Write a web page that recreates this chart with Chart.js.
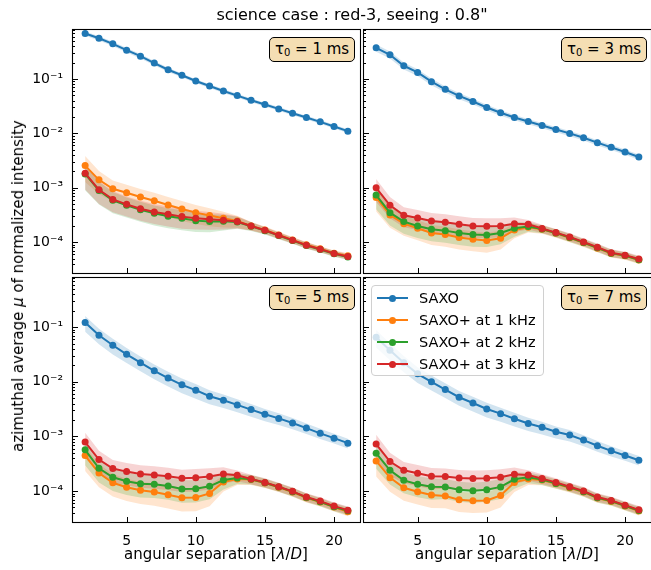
<!DOCTYPE html>
<html>
<head>
<meta charset="utf-8">
<script src="https://cdn.jsdelivr.net/npm/chart.js@4.4.1/dist/chart.umd.min.js"></script>
<style>
html, body { margin: 0; padding: 0; background: #fff; overflow: hidden; width: 651px; height: 570px; }
body { position: relative; font-family: "DejaVu Sans", sans-serif; color: #000; }
canvas.panel { position: absolute; }
.txt { position: absolute; white-space: nowrap; }
.tau { position: absolute; width: 84px; height: 23px; background: #f5deb3; border: 1px solid #000; border-radius: 5px;
       font-size: 15px; line-height: 23px; text-align: center; }
.tau sub { font-size: 10px; vertical-align: -2px; line-height: 0; }
#legend { position: absolute; left: 371px; top: 285px; width: 171px; height: 89px; background: rgba(255,255,255,0.8);
          border: 1px solid #d0d0d0; border-radius: 4px; font-size: 14.5px; }
#legend .row { position: absolute; left: 0; height: 20px; line-height: 20px; }
#legend .ln { position: absolute; left: 5px; top: 9px; width: 31px; height: 2px; }
#legend .mk { position: absolute; left: 17px; top: 6.5px; width: 7px; height: 7px; border-radius: 50%; }
#legend .lb { position: absolute; left: 47px; top: 0; white-space: nowrap; }
</style>
</head>
<body>
<canvas class="panel" id="c1" width="372" height="264" style="left:0px;top:20px"></canvas>
<canvas class="panel" id="c3" width="310" height="264" style="left:353px;top:20px"></canvas>
<canvas class="panel" id="c5" width="372" height="282" style="left:0px;top:268px"></canvas>
<canvas class="panel" id="c7" width="310" height="282" style="left:353px;top:268px"></canvas>

<div class="txt" style="left:0;top:5px;width:704px;text-align:center;font-size:16px;line-height:20px">science case : red-3, seeing : 0.8"</div>
<div class="txt" style="left:18px;top:286px;font-size:15px;transform:translate(-50%,-50%) rotate(-90deg)">azimuthal average <i>μ</i> of normalized intensity</div>
<div class="txt" style="left:216px;top:554px;font-size:15px;transform:translate(-50%,-50%)">angular separation [<i>λ</i>/<i>D</i>]</div>
<div class="txt" style="left:507px;top:554px;font-size:15px;transform:translate(-50%,-50%)">angular separation [<i>λ</i>/<i>D</i>]</div>

<div class="tau" style="left:269px;top:37px">τ<sub>0</sub> = 1 ms</div>
<div class="tau" style="left:561px;top:37px">τ<sub>0</sub> = 3 ms</div>
<div class="tau" style="left:269px;top:285px">τ<sub>0</sub> = 5 ms</div>
<div class="tau" style="left:561px;top:285px">τ<sub>0</sub> = 7 ms</div>

<div id="legend"></div>

<script>
// --- data ---
const sep = [2, 3, 4, 5, 6, 7, 8, 9, 10, 11, 12, 13, 14, 15, 16, 17, 18, 19, 20, 21];
const seriesNames = ['SAXO', 'SAXO+ at 1 kHz', 'SAXO+ at 2 kHz', 'SAXO+ at 3 kHz'];
const colors = ['#1f77b4', '#ff7f0e', '#2ca02c', '#d62728'];
const bandColors = ['rgba(31,119,180,0.2)', 'rgba(255,127,14,0.2)', 'rgba(44,160,44,0.2)', 'rgba(214,39,40,0.2)'];

// tau0 = 1 ms
const saxoT1 = [0.684, 0.562, 0.443, 0.339, 0.263, 0.196, 0.148, 0.117, 0.0919, 0.0744, 0.0603, 0.0495, 0.0407, 0.0339, 0.0282, 0.0235, 0.0196, 0.0163, 0.0134, 0.0110];
const p1kT1 = [2.56e-3, 1.40e-3, 9.6e-4, 8.1e-4, 6.75e-4, 5.78e-4, 4.82e-4, 4.07e-4, 3.49e-4, 3.08e-4, 2.75e-4, 2.46e-4, 1.99e-4, 1.68e-4, 1.36e-4, 1.10e-4, 8.94e-5, 7.55e-5, 6.29e-5, 5.62e-5];
const p2kT1 = [1.80e-3, 8.93e-4, 5.87e-4, 4.75e-4, 3.96e-4, 3.39e-4, 2.99e-4, 2.75e-4, 2.49e-4, 2.39e-4, 2.42e-4, 2.35e-4, 1.96e-4, 1.63e-4, 1.32e-4, 1.07e-4, 8.69e-5, 7.34e-5, 6.12e-5, 5.32e-5];
const p3kT1 = [1.85e-3, 9.18e-4, 6.12e-4, 4.96e-4, 4.13e-4, 3.59e-4, 3.25e-4, 2.95e-4, 2.75e-4, 2.64e-4, 2.52e-4, 2.39e-4, 1.99e-4, 1.66e-4, 1.34e-4, 1.09e-4, 8.8e-5, 7.45e-5, 6.2e-5, 5.47e-5];

// tau0 = 3 ms
const saxoT3 = [0.374, 0.279, 0.175, 0.132, 0.0894, 0.0647, 0.0489, 0.0385, 0.0299, 0.0239, 0.0196, 0.0166, 0.0140, 0.0118, 0.0100, 0.00833, 0.00675, 0.00554, 0.00456, 0.00369];
const p1kT3 = [6.65e-4, 3.16e-4, 2.19e-4, 1.80e-4, 1.48e-4, 1.38e-4, 1.22e-4, 1.13e-4, 1.07e-4, 1.18e-4, 1.68e-4, 1.88e-4, 1.73e-4, 1.46e-4, 1.20e-4, 9.73e-5, 7.76e-5, 6.21e-5, 5.62e-5, 4.69e-5];
const p2kT3 = [7.34e-4, 3.49e-4, 2.39e-4, 1.99e-4, 1.73e-4, 1.63e-4, 1.48e-4, 1.38e-4, 1.36e-4, 1.48e-4, 1.80e-4, 1.94e-4, 1.75e-4, 1.48e-4, 1.22e-4, 9.87e-5, 7.87e-5, 6.29e-5, 5.70e-5, 4.75e-5];
const p3kT3 = [1.0e-3, 4.75e-4, 3.12e-4, 2.79e-4, 2.46e-4, 2.32e-4, 2.13e-4, 1.99e-4, 1.96e-4, 1.99e-4, 2.19e-4, 2.13e-4, 1.78e-4, 1.50e-4, 1.25e-4, 1.01e-4, 8.11e-5, 6.38e-5, 5.78e-5, 4.89e-5];

// tau0 = 5 ms
const saxoT5 = [0.122, 0.0713, 0.0467, 0.0319, 0.0224, 0.0159, 0.0117, 0.00881, 0.00703, 0.00545, 0.00460, 0.00378, 0.00310, 0.00254, 0.00214, 0.00176, 0.00142, 0.00114, 9.31e-4, 7.53e-4];
const p1kT5 = [4.47e-4, 2.14e-4, 1.42e-4, 1.17e-4, 1.03e-4, 9.59e-5, 8.57e-5, 7.54e-5, 7.65e-5, 9.06e-5, 1.47e-4, 1.66e-4, 1.62e-4, 1.40e-4, 1.17e-4, 9.59e-5, 7.54e-5, 6.28e-5, 5.08e-5, 4.17e-5];
const p2kT5 = [5.69e-4, 2.61e-4, 1.79e-4, 1.51e-4, 1.36e-4, 1.33e-4, 1.24e-4, 1.09e-4, 1.10e-4, 1.22e-4, 1.59e-4, 1.73e-4, 1.64e-4, 1.42e-4, 1.19e-4, 9.73e-5, 7.65e-5, 6.37e-5, 5.15e-5, 4.35e-5];
const p3kT5 = [7.87e-4, 3.78e-4, 2.58e-4, 2.27e-4, 2.06e-4, 1.97e-4, 1.86e-4, 1.71e-4, 1.76e-4, 1.84e-4, 2.06e-4, 1.94e-4, 1.66e-4, 1.44e-4, 1.20e-4, 9.87e-5, 7.76e-5, 6.55e-5, 5.30e-5, 4.47e-5];

// tau0 = 7 ms
const saxoT7 = [0.0655, 0.0378, 0.0224, 0.0140, 0.0100, 0.00723, 0.00522, 0.00410, 0.00318, 0.00261, 0.00211, 0.00173, 0.00147, 0.00122, 0.00106, 8.57e-4, 6.74e-4, 5.45e-4, 4.47e-4, 3.66e-4];
const p1kT7 = [3.56e-4, 1.76e-4, 1.15e-4, 9.73e-5, 8.44e-5, 8.09e-5, 6.92e-5, 6.63e-5, 6.73e-5, 8.32e-5, 1.44e-4, 1.66e-4, 1.59e-4, 1.36e-4, 1.15e-4, 9.59e-5, 7.43e-5, 6.46e-5, 5.30e-5, 4.29e-5];
const p2kT7 = [4.94e-4, 2.40e-4, 1.57e-4, 1.33e-4, 1.20e-4, 1.19e-4, 1.06e-4, 1.01e-4, 1.06e-4, 1.19e-4, 1.64e-4, 1.79e-4, 1.62e-4, 1.38e-4, 1.17e-4, 9.73e-5, 7.54e-5, 6.55e-5, 5.37e-5, 4.41e-5];
const p3kT7 = [7.23e-4, 3.47e-4, 2.40e-4, 2.11e-4, 1.86e-4, 1.84e-4, 1.73e-4, 1.69e-4, 1.71e-4, 1.79e-4, 2.03e-4, 1.97e-4, 1.69e-4, 1.44e-4, 1.20e-4, 1.0e-4, 7.76e-5, 6.73e-5, 5.52e-5, 4.53e-5];

// relative spread (std / mean) of the shaded bands
const errSaxoT1 = [0.09, 0.09, 0.09, 0.09, 0.09, 0.09, 0.09, 0.08, 0.08, 0.08, 0.08, 0.08, 0.08, 0.08, 0.08, 0.08, 0.08, 0.08, 0.08, 0.08];
const errPlusT1 = [0.50, 0.45, 0.42, 0.40, 0.40, 0.40, 0.40, 0.40, 0.38, 0.36, 0.32, 0.25, 0.18, 0.15, 0.14, 0.13, 0.13, 0.12, 0.12, 0.12];
const errSaxoT3 = [0.15, 0.15, 0.15, 0.14, 0.14, 0.13, 0.13, 0.12, 0.12, 0.12, 0.11, 0.11, 0.11, 0.11, 0.11, 0.11, 0.11, 0.11, 0.11, 0.11];
const errPlusT3 = [0.45, 0.42, 0.40, 0.40, 0.40, 0.40, 0.40, 0.40, 0.40, 0.38, 0.30, 0.20, 0.17, 0.17, 0.17, 0.16, 0.16, 0.16, 0.15, 0.15];
const errSaxoT5 = [0.32, 0.32, 0.32, 0.31, 0.30, 0.30, 0.30, 0.30, 0.30, 0.29, 0.28, 0.27, 0.26, 0.25, 0.24, 0.23, 0.22, 0.21, 0.20, 0.20];
const errPlusT5 = [0.48, 0.45, 0.44, 0.44, 0.44, 0.44, 0.44, 0.44, 0.44, 0.42, 0.33, 0.22, 0.20, 0.19, 0.18, 0.18, 0.18, 0.17, 0.17, 0.17];
const errSaxoT7 = [0.35, 0.34, 0.33, 0.32, 0.31, 0.30, 0.30, 0.30, 0.30, 0.29, 0.28, 0.27, 0.26, 0.25, 0.24, 0.23, 0.22, 0.21, 0.20, 0.20];
const errPlusT7 = [0.48, 0.45, 0.42, 0.42, 0.42, 0.40, 0.40, 0.40, 0.40, 0.40, 0.33, 0.22, 0.20, 0.19, 0.18, 0.18, 0.18, 0.17, 0.17, 0.17];

const xTicks = [5, 10, 15, 20];
const xMin = 1.05, xMax = 21.95;
const yMin = 2.6e-5, yMax = 0.83;

// --- helpers ---
const SUP = { '-': '⁻', '0': '⁰', '1': '¹', '2': '²', '3': '³', '4': '⁴', '5': '⁵', '6': '⁶', '7': '⁷', '8': '⁸', '9': '⁹' };
function mantissa(v) {
    const e = Math.floor(Math.log10(v) + 1e-9);
    return v / Math.pow(10, e);
}
function isPow10(v) { return Math.abs(mantissa(v) - 1) < 1e-6; }
function powLabel(v) {
    const e = String(Math.round(Math.log10(v)));
    return '10' + e.split('').map(c => SUP[c]).join('');
}

// frame + inward ticks (left and bottom), like the original axes
const frameTicks = {
    id: 'frameTicks',
    afterDatasetsDraw(chart) {
        const { ctx, chartArea: a, scales: { x, y } } = chart;
        ctx.save();
        ctx.strokeStyle = '#000';
        ctx.lineWidth = 1;
        ctx.beginPath();
        y.ticks.forEach(t => {
            const py = Math.round(y.getPixelForValue(t.value)) + 0.5;
            const len = isPow10(t.value) ? 6 : 3;
            ctx.moveTo(a.left, py);
            ctx.lineTo(a.left + len, py);
        });
        x.ticks.forEach(t => {
            const px = Math.round(x.getPixelForValue(t.value)) + 0.5;
            ctx.moveTo(px, a.bottom);
            ctx.lineTo(px, a.bottom - 6);
        });
        ctx.stroke();
        ctx.lineWidth = 1.1;
        ctx.strokeRect(Math.round(a.left) + 0.5, Math.round(a.top) + 0.5,
            Math.round(a.right - a.left) - 1, Math.round(a.bottom - a.top) - 1);
        ctx.restore();
    }
};

function makePanel(id, series, errs, showY, showX, pad) {
    const datasets = [];
    series.forEach((vals, i) => {
        const err = i === 0 ? errs[0] : errs[1];
        const lowIdx = datasets.length;
        datasets.push({
            data: sep.map((s, k) => ({ x: s, y: vals[k] * (1 - err[k]) })),
            borderWidth: 0, pointRadius: 0, fill: false, order: 8 - i
        });
        datasets.push({
            data: sep.map((s, k) => ({ x: s, y: vals[k] * (1 + err[k]) })),
            borderWidth: 0, pointRadius: 0, fill: lowIdx, backgroundColor: bandColors[i], order: 8 - i
        });
    });
    series.forEach((vals, i) => {
        datasets.push({
            label: seriesNames[i],
            data: sep.map((s, k) => ({ x: s, y: vals[k] })),
            borderColor: colors[i], backgroundColor: colors[i],
            borderWidth: 2, pointRadius: 3.5, pointBorderWidth: 0,
            pointBackgroundColor: colors[i], tension: 0, fill: false, order: 4 - i
        });
    });

    return new Chart(document.getElementById(id), {
        type: 'line',
        data: { datasets },
        plugins: [frameTicks],
        options: {
            responsive: false,
            animation: false,
            events: [],
            layout: { padding: pad },
            plugins: { legend: { display: false }, tooltip: { enabled: false } },
            scales: {
                x: {
                    type: 'linear', min: xMin, max: xMax,
                    grid: { display: false, drawTicks: false }, border: { display: false },
                    afterBuildTicks: s => { s.ticks = xTicks.map(v => ({ value: v })); },
                    ticks: {
                        display: showX, padding: 10, maxRotation: 0, autoSkip: false,
                        color: '#000', font: { family: 'DejaVu Sans', size: 14 },
                        callback: v => String(v)
                    },
                    afterFit: s => { s.height = showX ? 25 : 0; s.paddingLeft = 0; s.paddingRight = 0; }
                },
                y: {
                    type: 'logarithmic', min: yMin, max: yMax,
                    grid: { display: false, drawTicks: false }, border: { display: false },
                    afterBuildTicks: s => {
                        s.ticks = s.ticks.filter(t => t.value >= yMin && t.value <= yMax &&
                            Math.abs(mantissa(t.value) - Math.round(mantissa(t.value))) < 1e-6);
                    },
                    ticks: {
                        display: showY, padding: 9, autoSkip: false,
                        color: '#000', font: { family: 'DejaVu Sans', size: 14 },
                        callback: v => isPow10(v) ? powLabel(v) : ''
                    },
                    afterFit: s => { s.width = showY ? 72 : 0; s.paddingTop = 0; s.paddingBottom = 0; }
                }
            }
        }
    });
}

makePanel('c1', [saxoT1, p1kT1, p2kT1, p3kT1], [errSaxoT1, errPlusT1], true, false, { left: 0, top: 9, right: 11, bottom: 10 });
makePanel('c3', [saxoT3, p1kT3, p2kT3, p3kT3], [errSaxoT3, errPlusT3], false, false, { left: 10, top: 9, right: 11, bottom: 10 });
makePanel('c5', [saxoT5, p1kT5, p2kT5, p3kT5], [errSaxoT5, errPlusT5], true, true, { left: 0, top: 9, right: 11, bottom: 2 });
makePanel('c7', [saxoT7, p1kT7, p2kT7, p3kT7], [errSaxoT7, errPlusT7], false, true, { left: 10, top: 9, right: 11, bottom: 2 });

// legend (lives inside the tau0 = 7 ms panel)
const legend = document.getElementById('legend');
seriesNames.forEach((name, i) => {
    const row = document.createElement('div');
    row.className = 'row';
    row.style.top = (2 + i * 22) + 'px';
    row.innerHTML = '<span class="ln" style="background:' + colors[i] + '"></span>' +
        '<span class="mk" style="background:' + colors[i] + '"></span>' +
        '<span class="lb">' + name + '</span>';
    legend.appendChild(row);
});
</script>
</body>
</html>
